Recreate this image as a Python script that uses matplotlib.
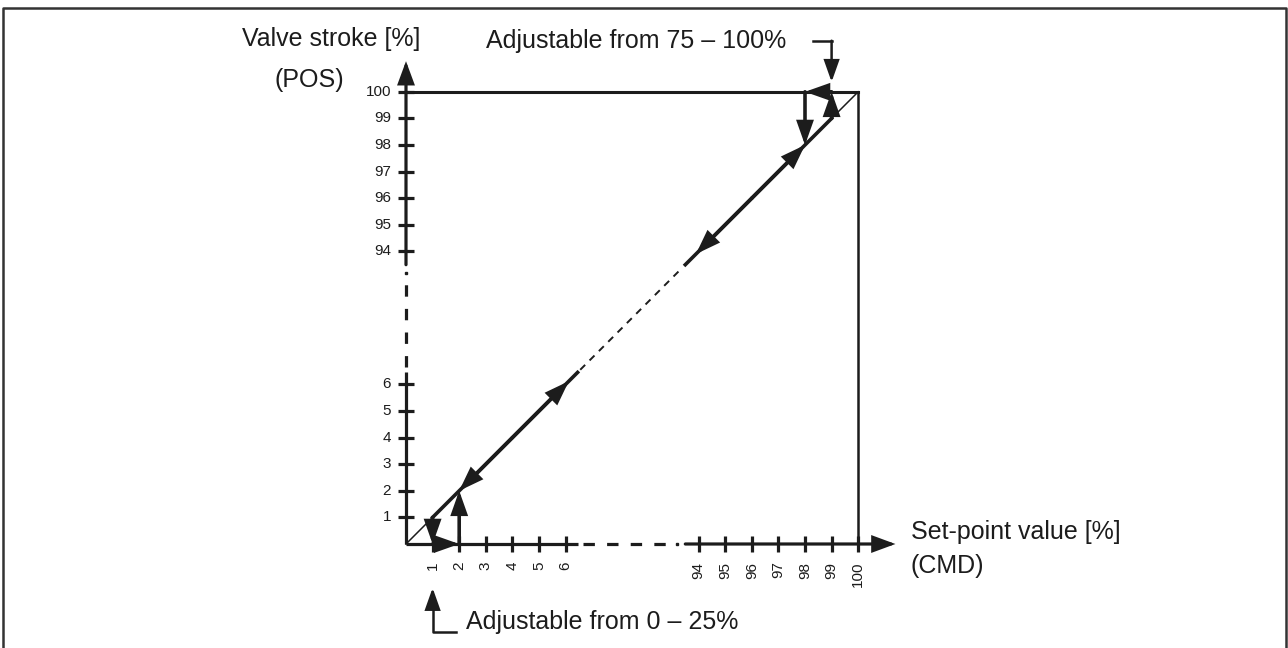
import numpy as np
import matplotlib.pyplot as plt
from matplotlib.patches import FancyArrowPatch

plt.rcParams['font.family'] = ['Liberation Sans', 'DejaVu Sans']
plt.rcParams['lines.scale_dashes'] = False

##################################
####          Data            ####
##################################

# tick values on both axes, axis is broken between 6 and 94
low_ticks = [1, 2, 3, 4, 5, 6]
high_ticks = [94, 95, 96, 97, 98, 99, 100]
tick_values = low_ticks + high_ticks
break_shift = 83  # values above the break are drawn shifted by this

# hysteresis steps at the closing and opening end (CMD, POS)
cmd_low_steps = [1, 1, 2, 2]
pos_low_steps = [1, 0, 0, 2]
cmd_high_steps = [99, 99, 98, 98]
pos_high_steps = [99, 100, 100, 98]

x_title = ['Set-point value [%]', '(CMD)']
y_title = ['Valve stroke [%]', '(POS)']
note_high = 'Adjustable from 75 \u2013 100%'
note_low = 'Adjustable from 0 \u2013 25%'


def p(v):
    # value -> drawing position on the broken axis
    v = np.asarray(v, dtype=float)
    return np.where(v >= 50, v - break_shift, v)


##################################
####          Layout          ####
##################################

ink = '#1c1c1c'
px = 26.6  # pixels per axis unit
W, H = 1288, 648
ox, oy = 406, 544  # origin in pixels (from top-left)

fig = plt.figure(figsize=(W / 100, H / 100), dpi=100)
ax = fig.add_axes([0, 0, 1, 1])
ax.set_xlim(-ox / px, (W - ox) / px)
ax.set_ylim(-(H - oy) / px, oy / px)
ax.axis('off')

solid_end, dash_end, dot_at, resume = 6.45, 10.0, 10.19, 10.5
x_tip, y_tip = 18.4, 18.15
big = 18
small = 11


def arrow(a, b, lw=2.2, hl=13, hw=4.6):
    ax.add_patch(FancyArrowPatch(a, b, arrowstyle=f'-|>,head_length={hl},head_width={hw}',
                                 mutation_scale=1, lw=lw, color=ink,
                                 shrinkA=0, shrinkB=0, joinstyle='miter'))


# frame around the figure
ax.plot([0.0023, 0.0023, 0.9984, 0.9984], [-0.1, 0.9877, 0.9877, -0.1],
        transform=ax.transAxes, color='#333333', lw=1.8, clip_on=False)

# x axis
ax.plot([0, solid_end], [0, 0], color=ink, lw=2.3, solid_capstyle='butt')
ax.plot([solid_end + 0.2, dash_end], [0, 0], color=ink, lw=2.3, dashes=(8.2, 8.8))
ax.plot([dot_at], [0], marker='s', ms=2, color=ink)
arrow((resume, 0), (x_tip, 0), lw=2.3, hl=13, hw=4.8)
# y axis
ax.plot([0, 0], [0, solid_end], color=ink, lw=2.3, solid_capstyle='butt')
ax.plot([0, 0], [solid_end + 0.2, dash_end], color=ink, lw=2.3, dashes=(8.2, 8.8))
ax.plot([0], [dot_at], marker='s', ms=2, color=ink)
arrow((0, resume), (0, y_tip), lw=2.3, hl=13, hw=4.8)

# ticks and tick labels
tp = p(tick_values)
ax.plot(tp, np.zeros_like(tp), ls='none', marker='|', ms=11, mew=2.3, color=ink)
ax.plot(np.zeros_like(tp), tp, ls='none', marker='_', ms=11, mew=2.3, color=ink)
for v, t in zip(tick_values, tp):
    ax.text(t, -0.66, str(v), rotation=90, ha='center', va='top', fontsize=small, color=ink)
    ax.text(-0.56, t, str(v), ha='right', va='center', fontsize=small, color=ink)

# box at 100 %
top = float(p(100))
ax.plot([0, top], [top, top], color=ink, lw=2.2)
ax.plot([top, top], [0, top], color=ink, lw=1.8)

# characteristic line
ax.plot(p([0, 1]), p([0, 1]), color=ink, lw=1.1)
ax.plot([1, solid_end], [1, solid_end], color=ink, lw=2.6)
ax.plot([solid_end + 0.1, resume - 0.1], [solid_end + 0.1, resume - 0.1], color=ink, lw=1.4, dashes=(5, 4.5))
ax.plot([resume, float(p(99))], [resume, float(p(99))], color=ink, lw=2.6)
ax.plot(p([99, 100]), p([99, 100]), color=ink, lw=1.1)
arrow((4, 4), (2, 2), lw=2.6)
arrow((4, 4), (6.12, 6.12), lw=2.6)
arrow((13, 13), (10.9, 10.9), lw=2.6)
arrow((13, 13), (float(p(98)), float(p(98))), lw=2.6)

# hysteresis steps
for cx, py in [(cmd_low_steps, pos_low_steps), (cmd_high_steps, pos_high_steps)]:
    xs, ys = p(cx), p(py)
    for i in range(len(xs) - 1):
        arrow((xs[i], ys[i]), (xs[i + 1], ys[i + 1]), lw=2.6)

# axis titles
ax.text(-6.15, 19.0, y_title[0], ha='left', va='center', fontsize=big, color=ink)
ax.text(-4.93, 17.45, y_title[1], ha='left', va='center', fontsize=big, color=ink)
ax.text(18.97, 0.45, x_title[0], ha='left', va='center', fontsize=big, color=ink)
ax.text(18.97, -0.83, x_title[1], ha='left', va='center', fontsize=big, color=ink)

# adjustment notes
hx = float(p(99))
ax.text(3.0, 18.92, note_high, ha='left', va='center', fontsize=big, color=ink)
ax.plot([15.3, hx], [18.92, 18.92], color=ink, lw=1.8)
arrow((hx, 18.92), (hx, 17.37), lw=1.8)
ax.text(2.25, -2.93, note_low, ha='left', va='center', fontsize=big, color=ink)
ax.plot([1.88, 1, 1], [-3.32, -3.32, -2.4], color=ink, lw=1.8)
arrow((1, -2.4), (1, -1.65), lw=1.8)

fig.savefig('out.png', dpi=100)
